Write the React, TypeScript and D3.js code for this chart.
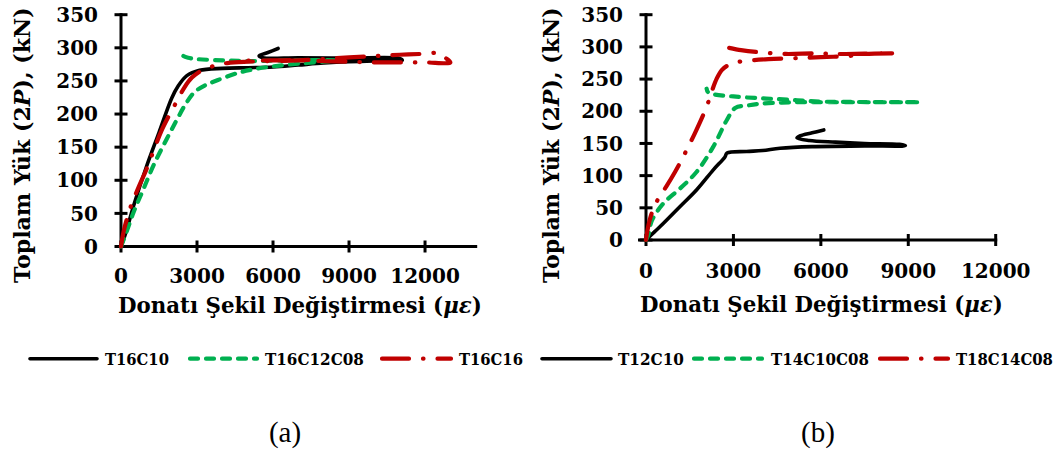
import React, { useLayoutEffect, useRef, useState } from 'react';
import * as d3 from 'd3';

// ---------- data ----------
const yTickValues = [0, 50, 100, 150, 200, 250, 300, 350];
const xTickValuesA = [0, 3000, 6000, 9000, 12000];
const xTickValuesB = [0, 3000, 6000, 9000, 12000];

// panel (a)
const T16C10: [number, number][] = [
  [0, 0], [200, 22], [500, 62], [1000, 120], [1500, 172], [2000, 224], [2250, 242], [2600, 258],
  [3100, 266], [4000, 269], [5000, 270], [6000, 271], [7000, 274], [8000, 277], [9000, 279],
  [10000, 280], [11100, 281], [11000, 284], [9000, 284.5], [7000, 285], [5600, 285],
  [5450, 288], [5800, 293], [6200, 299],
];
const T16C12C08: [number, number][] = [
  [0, 0], [200, 20], [500, 52], [900, 88], [1300, 124], [1800, 162], [2200, 191], [2550, 215],
  [2900, 233], [3300, 243], [3800, 251], [4700, 263], [5300, 268], [6000, 272], [7000, 276],
  [8000, 279], [8500, 281], [8000, 281.5], [7000, 281], [6000, 280.5], [5000, 280], [4000, 281],
  [3000, 283], [2650, 285], [2450, 288], [2350, 293], [2420, 297],
];
const T16C16: [number, number][] = [
  [0, 0], [100, 22], [220, 40], [400, 62], [700, 90], [1000, 116], [1300, 146], [1600, 175],
  [1900, 198], [2200, 219], [2500, 240], [2800, 255], [3200, 266], [3700, 273], [4200, 277],
  [5000, 279], [6000, 280], [7000, 281], [8000, 283], [9000, 285.5], [10000, 287.5],
  [11000, 289.5], [12000, 291], [12500, 292], [12800, 285], [13000, 278], [12000, 278],
  [11000, 278], [10000, 278], [9000, 279], [8000, 280], [7000, 281], [6000, 281], [4800, 280.5],
];

// panel (b)
const T12C10: [number, number][] = [
  [0, 0], [300, 13], [600, 26], [1170, 52], [1740, 78], [2310, 109], [2710, 129], [2780, 135],
  [3450, 137.5], [4000, 139], [4600, 142.5], [5700, 145], [7500, 146], [8900, 146.5],
  [8700, 148.5], [7500, 150], [6500, 152], [5600, 154.5], [5180, 158.5], [5300, 162],
  [5700, 166.5], [6100, 171],
];
const T14C10C08: [number, number][] = [
  [0, 0], [80, 8], [200, 30], [600, 57], [1170, 80], [1740, 106], [2310, 145], [2770, 186],
  [3060, 205], [3500, 209], [4000, 212], [5200, 214], [6000, 214], [7000, 214], [8000, 214],
  [9400, 214], [8000, 214.2], [7000, 214.5], [6000, 215], [5200, 217], [4500, 219], [4000, 220],
  [3000, 223], [2250, 227], [2120, 230], [2080, 235],
];
const T18C14C08: [number, number][] = [
  [0, 0], [50, 15], [120, 30], [200, 42], [420, 64], [710, 84], [1000, 106], [1230, 125],
  [1450, 145], [1680, 166], [2080, 207], [2250, 230], [2430, 251], [2600, 264], [2800, 271],
  [3100, 276], [3600, 279], [4200, 281], [5200, 282.5], [6000, 284], [7000, 286], [7500, 289],
  [8500, 290], [7500, 289.5], [6500, 289], [5800, 290], [4800, 289], [3800, 292], [3260, 295],
  [2700, 300],
];

const seriesA = [
  { name: 'T16C10', data: T16C10, style: 'solid' },
  { name: 'T16C12C08', data: T16C12C08, style: 'dash' },
  { name: 'T16C16', data: T16C16, style: 'dashdot' },
];
const seriesB = [
  { name: 'T12C10', data: T12C10, style: 'solid' },
  { name: 'T14C10C08', data: T14C10C08, style: 'dash' },
  { name: 'T18C14C08', data: T18C14C08, style: 'dashdot' },
];

// ---------- styles ----------
const STYLES: Record<string, { color: string; width: number; dash?: string }> = {
  solid: { color: '#000000', width: 3.6 },
  dash: { color: '#00b050', width: 4.2, dash: '8 8' },
  dashdot: { color: '#c00000', width: 4.2, dash: '27 14 0.5 14' },
};

const FONT = "'DejaVu Serif', serif";

// Text scaled horizontally (via transform) so that it spans exactly `width` px
function FitText(props: {
  x: number; y: number; width: number; rotate?: number; fontSize: number;
  children: React.ReactNode;
}) {
  const ref = useRef<SVGTextElement>(null);
  const [s, setS] = useState(1);
  useLayoutEffect(() => {
    if (ref.current) {
      const w = ref.current.getComputedTextLength();
      if (w > 0) setS(props.width / w);
    }
  }, [props.width]);
  return (
    <text ref={ref}
      transform={`translate(${props.x},${props.y}) rotate(${props.rotate || 0}) scale(${s},1)`}
      fontFamily={FONT} fontWeight="bold" fontSize={props.fontSize} fill="#000">
      {props.children}
    </text>
  );
}

type PanelProps = {
  series: { name: string; data: [number, number][]; style: string }[];
  xMax: number;
  xTicks: number[];
  x0: number; x1: number; y0: number; y1: number;
  yLabelRight: number;
  xLabelBaseline: number;
  xTitleX: number; xTitleBaseline: number; xTitleWidth: number;
  yTitleX: number;
  axisStart: number;
  legend: { lineX0: number; lineX1: number; textX: number; textW: number }[];
};

function Panel(p: PanelProps) {
  const x = d3.scaleLinear().domain([0, p.xMax]).range([p.x0, p.x1]);
  const y = d3.scaleLinear().domain([0, 350]).range([p.y0, p.y1]);
  const line = d3
    .line<[number, number]>()
    .x((d) => x(d[0]))
    .y((d) => y(d[1]))
    .curve(d3.curveCatmullRom.alpha(0.5));
  const legendY = 358.7;
  return (
    <g>
      {/* axes */}
      <line x1={p.axisStart} x2={x(p.xMax) + 1.5} y1={y(0)} y2={y(0)} stroke="#000" strokeWidth={3} />
      <line x1={x(0)} x2={x(0)} y1={y(0)} y2={y(350) - 1.5} stroke="#000" strokeWidth={3} />
      {yTickValues.map((v) => (
        <g key={'y' + v}>
          <line x1={x(0) - 6.5} x2={x(0) + 6.5} y1={y(v)} y2={y(v)} stroke="#000" strokeWidth={3} />
          <text x={p.yLabelRight} y={y(v)} dy="0.36em" textAnchor="end" fontFamily={FONT}
            fontWeight="bold" fontSize={20} fill="#000">{v}</text>
        </g>
      ))}
      {p.xTicks.map((v) => (
        <g key={'x' + v}>
          <line x1={x(v)} x2={x(v)} y1={y(0) - 6} y2={y(0) + 6} stroke="#000" strokeWidth={3} />
          <text x={x(v)} y={p.xLabelBaseline} textAnchor="middle" fontFamily={FONT}
            fontWeight="bold" fontSize={20} fill="#000">{v}</text>
        </g>
      ))}
      {/* titles */}
      <FitText x={p.xTitleX} y={p.xTitleBaseline} width={p.xTitleWidth} fontSize={23}>
        Donatı Şekil Değiştirmesi (<tspan fontStyle="italic">με</tspan>)
      </FitText>
      <FitText x={p.yTitleX} y={283} rotate={-90} width={276} fontSize={22.5}>
        Toplam Yük (2<tspan fontStyle="italic">P</tspan>),  (kN)
      </FitText>
      {/* series */}
      {p.series.map((s) => {
        const st = STYLES[s.style];
        return (
          <path key={s.name} d={line(s.data) || ''} fill="none" stroke={st.color}
            strokeWidth={st.width} strokeDasharray={st.dash} strokeLinecap="round"
            strokeLinejoin="round" />
        );
      })}
      {/* legend */}
      {p.series.map((s, i) => {
        const st = STYLES[s.style];
        const L = p.legend[i];
        return (
          <g key={'lg' + s.name}>
            <line x1={L.lineX0} x2={L.lineX1} y1={legendY} y2={legendY} stroke={st.color}
              strokeWidth={st.width} strokeDasharray={st.dash} strokeLinecap="round" />
            <FitText x={L.textX} y={365} width={L.textW} fontSize={17.5}>{s.name}</FitText>
          </g>
        );
      })}
    </g>
  );
}

export default function App() {
  return (
    <svg width={1057} height={451} style={{ position: 'absolute', left: 0, top: 0, background: '#fff' }}>
      <rect x={0} y={0} width={1057} height={451} fill="#fff" />
      <Panel
        series={seriesA}
        xMax={14000}
        xTicks={xTickValuesA}
        x0={121} x1={475.7} y0={246.5} y1={14.7}
        yLabelRight={98}
        xLabelBaseline={283}
        xTitleX={118} xTitleBaseline={313} xTitleWidth={364}
        yTitleX={30}
        axisStart={115}
        legend={[
          { lineX0: 30, lineX1: 97, textX: 105, textW: 64 },
          { lineX0: 190, lineX1: 257, textX: 265, textW: 99 },
          { lineX0: 382, lineX1: 451, textX: 459, textW: 64 },
        ]}
      />
      <Panel
        series={seriesB}
        xMax={12000}
        xTicks={xTickValuesB}
        x0={646} x1={995.7} y0={240} y1={14.7}
        yLabelRight={623}
        xLabelBaseline={278}
        xTitleX={640} xTitleBaseline={312} xTitleWidth={363}
        yTitleX={559}
        axisStart={638}
        legend={[
          { lineX0: 542, lineX1: 611, textX: 618, textW: 66 },
          { lineX0: 694, lineX1: 762, textX: 771, textW: 98 },
          { lineX0: 880, lineX1: 948, textX: 956, textW: 97 },
        ]}
      />
      <text x={285} y={442} textAnchor="middle" fontFamily="'Liberation Serif', serif" fontSize={29} fill="#000">(a)</text>
      <text x={818} y={442} textAnchor="middle" fontFamily="'Liberation Serif', serif" fontSize={29} fill="#000">(b)</text>
    </svg>
  );
}
